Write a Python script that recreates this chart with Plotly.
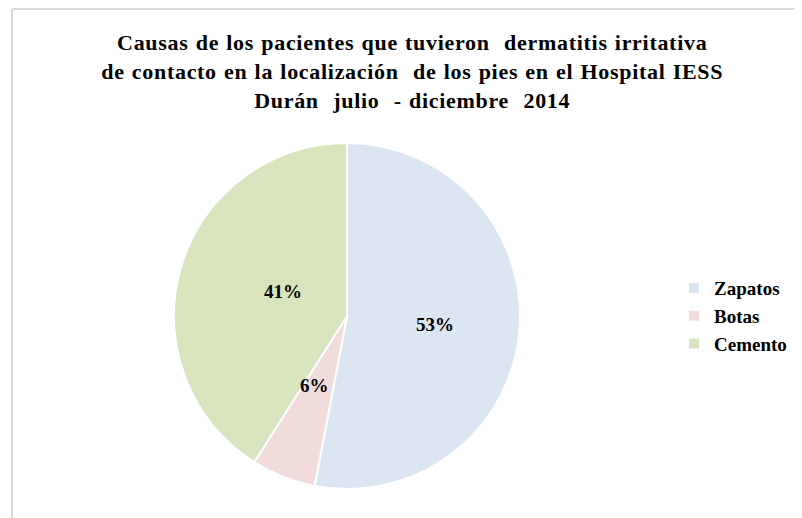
import math
import plotly.graph_objects as go

# Data
causas = ["Zapatos", "Botas", "Cemento"]
porcentajes = [53, 6, 41]
colores = ["#DCE6F2", "#F2DCDB", "#D7E4BD"]

titulo = ("Causas de los pacientes que tuvieron&nbsp; dermatitis irritativa<br>"
          "de contacto en la localización&nbsp; de los pies en el Hospital IESS<br>"
          "Durán&nbsp; julio&nbsp; - diciembre&nbsp; 2014")

fuente = "Liberation Serif, Times New Roman, serif"
W, H = 802, 518
dom_x = [0.207, 0.6384]
dom_y = [0.0714, 0.7394]

fig = go.Figure()

fig.add_trace(go.Pie(
    labels=causas,
    values=porcentajes,
    sort=False,
    direction="clockwise",
    rotation=0,
    marker=dict(colors=colores, line=dict(color="white", width=2)),
    textinfo="none",
    domain=dict(x=dom_x, y=dom_y),
    hoverinfo="label+percent",
))

# Percentage labels placed at half radius along each slice's mid angle (Excel style)
cx = sum(dom_x) / 2
cy = sum(dom_y) / 2
r = (dom_x[1] - dom_x[0]) / 2
total = sum(porcentajes)
acum = 0
etiquetas = []
for v in porcentajes:
    ang = 2 * math.pi * (acum + v / 2) / total
    acum += v
    etiquetas.append(dict(
        x=cx + 0.51 * r * math.sin(ang),
        y=cy + 0.51 * r * math.cos(ang) * W / H,
        xref="paper", yref="paper", showarrow=False,
        text="<b>%d%%</b>" % round(100 * v / total),
        font=dict(family=fuente, size=19, color="black"),
    ))

# Update layout:
fig.update_layout(
    width=W,
    height=H,
    margin=dict(l=0, r=0, t=0, b=0),
    paper_bgcolor="white",
    plot_bgcolor="white",
    font=dict(family=fuente, color="black"),
    title=dict(text="<span style='letter-spacing:0.7px; word-spacing:1px'><b>" + titulo + "</b></span>",
               x=0.504, xanchor="center", y=0.918, yanchor="top",
               font=dict(family=fuente, size=22, color="black")),
    legend=dict(x=0.8305, xanchor="left", y=0.405, yanchor="middle",
                font=dict(family=fuente, size=19, color="black", weight="bold"),
                itemwidth=30),
    annotations=etiquetas,
    # chart frame border (partly cropped in the original)
    shapes=[
        dict(type="line", xref="paper", yref="paper", x0=0.005, x1=1.0, y0=0.998, y1=0.998,
             line=dict(color="#D9D9D9", width=2)),
        dict(type="line", xref="paper", yref="paper", x0=0.005, x1=0.005, y0=0.0, y1=0.998,
             line=dict(color="#D9D9D9", width=2)),
    ],
)

fig.write_html("out.html")
